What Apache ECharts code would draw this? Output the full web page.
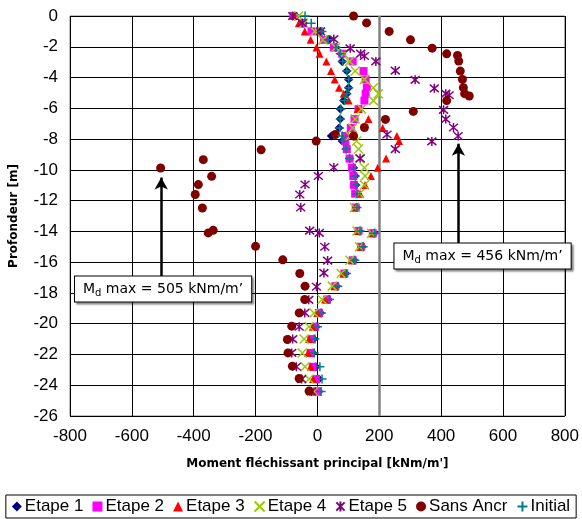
<!DOCTYPE html>
<html>
<head>
<meta charset="utf-8">
<title>Moment fléchissant principal</title>
<script src="https://cdn.jsdelivr.net/npm/echarts@6/dist/echarts.min.js"></script>
<style>
  html, body { margin: 0; padding: 0; background: #fff; }
  #chart { width: 582px; height: 519px; }
</style>
</head>
<body>
<div id="chart"></div>
<script>
/* =========================================
   1. DATA
   ========================================= */
// depth levels shared by Etape 1..4 and Initial [m, positive down]
const depths = [0, 0.47, 1.0, 1.55, 2.05, 2.45, 2.95, 3.58, 4.12, 4.66, 5.05, 5.5, 6.05, 6.7, 7.28, 7.8, 8.13, 8.65,
  9.27, 9.86, 10.4, 10.98, 11.55, 12.45, 13.97, 14.12, 15.0, 15.88, 16.74, 17.56, 18.43, 19.3, 20.2, 21.0, 21.9,
  22.8, 23.6, 24.4];

const etape1 = [-70, -45, 10, 37, 60, 76, 80, 95, 101, 101, 95, 85, 74, 74, 70, 45, 80, 93,
  104, 117, 122, 124, 126, 126, 135, 183, 145, 118, 91, 62, 35, 10, -4, -12, -15,
  -5, 5, 5];
const etape2 = [-78, -49, -19, 21, 53, 80, 114, 149, 156, 160, 156, 152, 133, 120, 108, 90, 90, 95,
  104, 112, 116, 118, 122, 124, 133, 179, 141, 114, 87, 58, 31, 5, -8, -20, -22,
  -15, -4, -1];
const etape3 = [-75, -60, -41, -22, -3, 7, 29, 44, 56, 70, 85, 101, 130, 165, 211, 257, 264, null,
  222, 195, 173, 154, 138, 122, 130, 176, 138, 111, 84, 55, 25, 0, -15, -27, -30,
  -22, -14, -14];
const etape4 = [-61, -45, -8, 18, 59, 85, 104, 122, 152, 181, 197, 181, 143, 122, 114, 106, 127, 133,
  138, 152, 154, 152, 136, 120, 128, 175, 136, 105, 77, 48, 15, -11, -27, -43, -49,
  -40, -27, -12];
const initial = [-40, -20, 15, 35, 60, 74, 82, 95, 101, 101, 95, 88, 76, 74, 72, 80, 85, 93,
  104, 117, 122, 124, 128, 128, 138, 185, 148, 121, 94, 66, 39, 13, 0, -8, -10,
  8, 15, 12];

// Etape 5 has its own depth levels
const etape5Depths = [0, 0.45, 1.0, 1.5, 2.1, 2.45, 2.6, 2.95, 3.55, 4.15, 4.7, 5.05, 5.15, 6.1, 6.7, 7.25, 7.8,
  7.7, 8.15, 8.65, 9.25, 9.85, 10.4, 10.95, 11.6, 12.45, 13.95, 14.1, 15.0, 15.9, 16.7, 17.6, 18.45,
  19.3, 20.2, 21.0, 21.9, 22.8, 23.6, 24.4];
const etape5 = [-80, -49, 10, 53, 106, 140, 152, 189, 252, 316, 378, 415, 426, 408, 415, 440, 455,
  225, 370, 252, 138, 53, 3, -40, -57, -54, -25, 6, 24, 33, 21, -3, -28,
  -41, -59, -80, -83, -68, -51, -19];

// Sans ancrage, own depth levels
const sansDepths = [0, 0.45, 1.0, 1.55, 2.09, 2.46, 2.56, 2.93, 3.58, 4.12, 4.66, 5.05, 5.2, 5.5, 6.2, 6.72,
  7.25, 7.8, 7.7, 8.13, 8.7, 9.34, 9.88, 10.42, 10.96, 11.6, 12.48, 13.93, 14.1, 14.97, 15.85, 16.74,
  17.56, 18.43, 19.3, 20.16, 21.03, 21.9, 22.76, 23.56, 24.38];
const sansAncr = [117, 159, 232, 301, 371, 418, 453, 457, 462, 469, 472, 476, 491, 418, 310, 220,
  152, 117, 58, -4, -182, -369, -507, -342, -385, -395, -372, -337, -353, -200, -112, -57,
  -40, -41, -59, -83, -97, -95, -81, -59, -27];

const seriesNames = ["Etape 1", "Etape 2", "Etape 3", "Etape 4", "Etape 5", "Sans Ancr", "Initial"];
const xTicks = [-800, 800, 200];
const yTicks = [-26, 0, 2];
const mdMaxSans = 505;
const mdMaxEtape5 = 456;

/* =========================================
   2. HELPERS
   ========================================= */
function pairs(values, levels) {
  const out = [];
  values.forEach((v, i) => {
    if (v !== null) out.push([v, -levels[i]]);
  });
  return out;
}

const X_PATH = "path://M0,0L10,10M10,0L0,10";
const PLUS_PATH = "path://M5,0L5,10M0,5L10,5";
const STAR_PATH = "path://M0,0L10,10M10,0L0,10M5,-1L5,11";

function mdLabel(val) {
  return "{a|M}{s|d}{a| max = " + val + " kNm/m\u2019}";
}

const labelRich = {
  a: { fontFamily: "DejaVu Sans", fontSize: 14, color: "#000" },
  s: { fontFamily: "DejaVu Sans", fontSize: 10, color: "#000", padding: [8, 0, 0, 0] },
};

const boxStyle = {
  show: true,
  position: "inside",
  backgroundColor: "#fff",
  borderColor: "#000",
  borderWidth: 1,
  padding: [4, 8, 3, 8],
  shadowColor: "rgba(0,0,0,0.35)",
  shadowOffsetX: 2,
  shadowOffsetY: 2,
  shadowBlur: 2,
  rich: labelRich,
};

/* =========================================
   3. CHART
   ========================================= */
function initChart() {
  const dom = document.getElementById("chart");
  const chart = echarts.init(dom, null, { renderer: "canvas" });

  const tickFont = { fontFamily: "Liberation Sans", fontSize: 17, color: "#000" };
  const titleFont = { fontFamily: "DejaVu Sans", fontWeight: "bold", fontSize: 12, color: "#000" };

  const option = {
    animation: false,
    backgroundColor: "#fff",
    grid: {
      left: 68, right: 14, top: 16, bottom: 103,
      show: true, borderColor: "#808080", borderWidth: 1,
    },
    xAxis: {
      type: "value",
      min: xTicks[0], max: xTicks[1], interval: xTicks[2],
      name: "Moment fléchissant principal [kNm/m']",
      nameLocation: "middle",
      nameGap: 42,
      nameTextStyle: titleFont,
      axisLine: { show: false },
      axisTick: { show: false },
      axisLabel: Object.assign({ margin: 12 }, tickFont),
      splitLine: { lineStyle: { color: "#000", width: 1 } },
    },
    yAxis: {
      type: "value",
      min: yTicks[0], max: yTicks[1], interval: yTicks[2],
      name: "Profondeur [m]",
      nameLocation: "middle",
      nameGap: 50,
      nameTextStyle: titleFont,
      axisLine: { show: false },
      axisTick: { show: false },
      axisLabel: Object.assign({ margin: 12 }, tickFont),
      splitLine: { lineStyle: { color: "#000", width: 1 } },
    },
    legend: {
      bottom: 1,
      left: "center",
      data: seriesNames,
      itemWidth: 10,
      itemHeight: 10,
      itemGap: 9,
      padding: [3, 6, 3, 6],
      borderColor: "#000",
      borderWidth: 1,
      textStyle: { fontFamily: "Liberation Sans", fontSize: 17, color: "#000", padding: [0, 0, 0, -2] },
    },
    series: [
      {
        name: "Etape 1", type: "scatter",
        data: pairs(etape1, depths),
        symbol: "diamond", symbolSize: 9,
        itemStyle: { color: "#000080", opacity: 1 },
      },
      {
        name: "Etape 2", type: "scatter",
        data: pairs(etape2, depths),
        symbol: "rect", symbolSize: 8,
        itemStyle: { color: "#FF00FF", opacity: 1 },
      },
      {
        name: "Etape 3", type: "scatter",
        data: pairs(etape3, depths),
        symbol: "triangle", symbolSize: 8,
        itemStyle: { color: "#FF0000", opacity: 1 },
      },
      {
        name: "Etape 4", type: "scatter",
        data: pairs(etape4, depths),
        symbol: X_PATH, symbolSize: 9,
        itemStyle: { color: "rgba(0,0,0,0)", borderColor: "#99CC00", borderWidth: 1.5, opacity: 1 },
      },
      {
        name: "Etape 5", type: "scatter",
        data: pairs(etape5, etape5Depths),
        symbol: STAR_PATH, symbolSize: 9,
        itemStyle: { color: "rgba(0,0,0,0)", borderColor: "#800080", borderWidth: 1.5, opacity: 1 },
        markLine: {
          silent: true,
          symbol: ["none", "arrow"],
          symbolSize: [10, 12],
          label: { show: false },
          lineStyle: { color: "#000", width: 2.5, type: "solid" },
          data: [
            [{ coord: [mdMaxEtape5, -14.85] }, { coord: [mdMaxEtape5, -8.3] }],
          ],
        },
        markPoint: {
          silent: true,
          symbol: "rect",
          symbolSize: 0,
          data: [{ coord: [534, -15.6], label: Object.assign({ formatter: mdLabel(mdMaxEtape5) }, boxStyle) }],
        },
      },
      {
        name: "Sans Ancr", type: "scatter",
        data: pairs(sansAncr, sansDepths),
        symbol: "circle", symbolSize: 9,
        itemStyle: { color: "#800000", opacity: 1 },
        markLine: {
          silent: true,
          symbol: ["none", "arrow"],
          symbolSize: [10, 12],
          label: { show: false },
          lineStyle: { color: "#000", width: 2.5, type: "solid" },
          data: [
            [{ coord: [-mdMaxSans, -17.0] }, { coord: [-mdMaxSans, -10.5] }],
          ],
        },
        markPoint: {
          silent: true,
          symbol: "rect",
          symbolSize: 0,
          data: [{ coord: [-499, -17.75], label: Object.assign({ formatter: mdLabel(mdMaxSans) }, boxStyle) }],
        },
      },
      {
        name: "Initial", type: "scatter",
        data: pairs(initial, depths),
        symbol: PLUS_PATH, symbolSize: 9,
        itemStyle: { color: "rgba(0,0,0,0)", borderColor: "#008080", borderWidth: 1.5, opacity: 1 },
        markLine: {
          silent: true,
          symbol: "none",
          label: { show: false },
          lineStyle: { color: "#808080", width: 2.5, type: "solid" },
          data: [{ xAxis: 200 }],
          z: 1,
        },
      },
    ],
  };

  chart.setOption(option);
  window.addEventListener("resize", () => chart.resize());
}

document.addEventListener("DOMContentLoaded", () => {
  initChart();
});
</script>
</body>
</html>
